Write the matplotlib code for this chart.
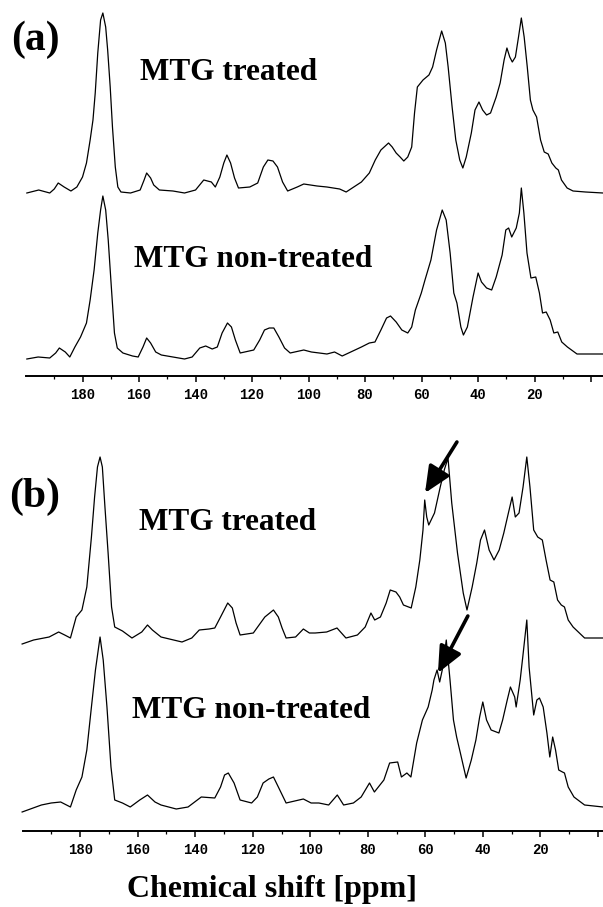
import matplotlib
matplotlib.use('Agg')
import matplotlib.pyplot as plt

# chemical shift (ppm) and intensity (a.u., baseline ~0)
a_top_ppm = [199.7, 195.5, 191.6, 190.0, 188.6, 186.5, 184.1, 182.0, 180.0, 178.6, 177.3, 176.3, 175.5, 174.6,
             173.6, 172.8, 171.8, 171.1, 170.2, 169.4, 168.4, 167.5, 166.4, 163.0, 159.6, 158.2, 157.3, 155.9,
             154.8, 152.8, 148.0, 143.9, 140.0, 137.1, 134.4, 133.0, 131.4, 130.0, 128.9, 127.6, 126.2, 124.8,
             120.8, 118.0, 116.0, 114.4, 112.6, 111.0, 109.2, 107.4, 104.0, 101.7, 97.0, 93.5, 89.0, 86.7,
             81.3, 78.5, 76.4, 74.4, 71.7, 70.4, 69.0, 67.6, 66.3, 64.9, 63.5, 62.5, 61.5, 59.5, 57.4, 56.1,
             54.7, 52.9, 51.6, 50.6, 49.2, 47.9, 46.5, 45.4, 44.2, 42.4, 41.1, 39.7, 38.4, 37.0, 35.6, 33.6,
             32.2, 30.8, 29.8, 28.8, 27.9, 26.8, 25.7, 24.7, 23.7, 22.6, 21.5, 20.6, 19.3, 17.9, 16.6, 15.2,
             13.9, 12.5, 11.6, 10.5, 8.5, 6.4, 2.0, -4.2]
a_top_int = [0, 3, 0, 4, 10, 6, 2, 6, 16, 30, 53, 73, 100, 140,
             173, 180, 166, 143, 106, 66, 26, 6, 1, 0, 3, 13, 20, 15,
             8, 3, 2, 0, 3, 13, 11, 6, 16, 30, 38, 30, 15, 5,
             6, 10, 26, 33, 32, 26, 11, 2, 6, 9, 7, 6, 4, 1,
             11, 20, 33, 43, 50, 46, 40, 36, 32, 36, 46, 80, 106, 113, 118, 126,
             143, 162, 150, 126, 86, 53, 33, 25, 36, 60, 83, 91, 83, 78, 80, 96,
             110, 133, 145, 136, 131, 136, 156, 175, 156, 126, 93, 83, 76, 53, 41, 39,
             30, 25, 23, 13, 5, 2, 1, 0]

a_bot_ppm = [199.7, 195.7, 191.6, 189.5, 188.2, 186.1, 184.5, 182.7, 180.7, 178.6, 177.3, 175.9, 174.6, 173.6,
             172.8, 171.8, 170.9, 169.8, 168.7, 167.7, 165.7, 162.3, 160.3, 158.6, 157.3, 155.9, 154.1, 152.1,
             148.0, 143.9, 141.2, 138.5, 136.4, 134.1, 132.3, 130.6, 128.7, 127.3, 125.9, 124.2, 119.4, 117.3,
             115.6, 113.9, 112.3, 110.5, 108.5, 106.5, 101.7, 99.0, 96.2, 93.5, 90.8, 88.1, 81.3, 78.5, 76.5,
             74.4, 72.4, 71.0, 69.0, 67.0, 64.9, 63.5, 62.2, 60.1, 58.8, 56.7, 54.7, 52.7, 51.3, 49.9, 48.6,
             47.5, 46.1, 45.2, 43.8, 41.8, 40.0, 38.8, 37.0, 35.2, 33.6, 31.5, 30.2, 29.2, 28.1, 26.5, 25.4,
             24.7, 23.8, 22.7, 21.3, 19.6, 18.3, 17.2, 15.9, 14.5, 13.2, 11.8, 10.4, 8.4, 5.0, -4.2]
a_bot_int = [-1, 1, 0, 5, 10, 6, 1, 11, 21, 35, 58, 88, 125, 148,
             162, 148, 118, 71, 25, 10, 5, 2, 1, 11, 20, 15, 6, 3,
             1, -1, 1, 10, 12, 9, 11, 25, 35, 31, 18, 5, 8, 18,
             28, 30, 30, 21, 10, 5, 8, 6, 5, 4, 6, 2, 11, 15, 16,
             28, 40, 42, 36, 28, 25, 31, 48, 65, 78, 98, 128, 148, 138, 105, 65,
             55, 31, 23, 31, 61, 85, 76, 70, 68, 81, 103, 128, 130, 121, 130, 145,
             170, 145, 105, 80, 81, 65, 45, 46, 38, 25, 26, 16, 11, 4, 4]

b_top_ppm = [200.2, 196.2, 190.8, 187.5, 185.4, 183.4, 181.4, 179.4, 177.7, 176.1, 175.0, 174.0, 173.1, 172.3,
             171.4, 170.3, 169.1, 168.0, 165.3, 162.0, 158.6, 156.6, 154.9, 151.9, 144.6, 141.2, 138.6, 135.2,
             133.2, 131.2, 128.7, 127.1, 125.8, 124.4, 119.8, 117.8, 115.8, 112.8, 111.1, 109.8, 108.4, 105.1,
             102.4, 100.3, 98.3, 94.3, 90.7, 87.6, 83.6, 80.9, 78.9, 77.6, 75.6, 73.6, 72.2, 70.2, 68.9, 67.6,
             64.9, 63.3, 61.9, 60.8, 60.2, 59.5, 58.8, 56.8, 54.8, 53.4, 52.1, 50.8, 48.8, 46.8, 45.5, 43.7,
             42.1, 40.8, 39.4, 37.8, 36.1, 34.3, 32.7, 31.1, 29.8, 28.7, 27.4, 26.0, 24.7, 23.6, 22.3, 20.9,
             19.3, 18.0, 16.6, 15.3, 14.0, 12.7, 11.6, 10.3, 8.6, 4.6, -1.8]
b_top_int = [-6, -2, 1, 6, 3, 0, 21, 28, 51, 101, 141, 171, 181, 171,
             131, 85, 31, 11, 7, 0, 6, 13, 8, 1, -4, 0, 8, 9,
             10, 21, 35, 30, 15, 3, 5, 13, 21, 28, 21, 10, 0, 1,
             9, 5, 5, 6, 10, 0, 3, 11, 25, 18, 21, 35, 48, 46, 41, 33,
             30, 51, 78, 108, 138, 121, 113, 125, 151, 168, 180, 135, 85, 45, 28, 51,
             75, 98, 108, 88, 78, 88, 105, 125, 141, 121, 125, 151, 181, 151, 108, 101,
             98, 78, 58, 56, 38, 33, 31, 18, 11, 0, 0]

b_bot_ppm = [200.2, 193.5, 190.1, 186.8, 183.4, 181.4, 179.4, 177.7, 176.1, 174.7, 173.1, 172.0, 170.7, 169.3,
             168.0, 165.3, 162.6, 159.3, 156.6, 154.0, 151.9, 146.6, 142.5, 137.9, 133.2, 131.2, 129.8, 128.5,
             126.5, 124.4, 120.4, 118.4, 116.4, 114.4, 112.8, 111.1, 108.4, 102.4, 99.7, 97.0, 93.6, 90.6, 88.4,
             85.0, 82.3, 79.4, 77.7, 74.4, 72.4, 69.6, 68.3, 66.4, 65.0, 63.0, 61.0, 59.0, 57.6, 57.0, 55.9,
             55.0, 54.1, 52.7, 51.4, 50.2, 49.1, 47.8, 45.8, 44.0, 42.4, 41.1, 40.0, 38.7, 37.1, 34.4, 33.1,
             31.5, 30.4, 28.9, 28.4, 27.0, 26.1, 24.7, 23.9, 22.3, 21.2, 20.3, 19.0, 17.7, 16.7, 15.7, 14.7,
             13.6, 12.3, 11.6, 10.3, 8.3, 4.6, -1.8]
b_bot_int = [-5, 2, 4, 5, 0, 17, 30, 57, 100, 137, 170, 147, 100, 40,
             7, 4, 0, 7, 12, 5, 2, -2, 0, 10, 9, 20, 32, 34,
             24, 7, 4, 10, 24, 28, 30, 20, 4, 8, 4, 4, 2, 12, 2,
             4, 10, 24, 15, 27, 44, 45, 30, 34, 30, 64, 87, 100, 117, 127, 137,
             125, 137, 167, 127, 87, 70, 54, 29, 47, 67, 90, 105, 87, 77, 74, 87,
             107, 120, 110, 100, 127, 150, 187, 140, 92, 107, 109, 100, 74, 50, 70, 57,
             37, 35, 34, 20, 10, 2, 0]

major_ticks = [180, 160, 140, 120, 100, 80, 60, 40, 20, 0]
tick_labels = ['180', '160', '140', '120', '100', '80', '60', '40', '20', '']
minor_ticks = [190, 170, 150, 130, 110, 90, 70, 50, 30, 10]

# arrows in (b): (ppm, intensity) of tail and head, relative to each trace
arrow_top = [(49.0, 196), (60.1, 145)]
arrow_bot = [(45.2, 191), (55.6, 134)]

W, H = 603, 907
fig = plt.figure(figsize=(W / 100, H / 100), dpi=100)
serif = 'Liberation Serif'


def make_axes(left, axis_y, top_y, xmin, xmax):
    ax = fig.add_axes([left / W, 1 - axis_y / H, (W - left) / W, (axis_y - top_y) / H])
    ax.set_xlim(xmin, xmax)
    ax.set_ylim(0, axis_y - top_y)
    for s in ['top', 'left', 'right']:
        ax.spines[s].set_visible(False)
    ax.spines['bottom'].set_linewidth(1.4)
    ax.set_yticks([])
    ax.set_xticks(major_ticks)
    ax.set_xticklabels(tick_labels, family='Liberation Mono', fontsize=10, fontweight='bold')
    ax.set_xticks(minor_ticks, minor=True)
    ax.tick_params(axis='x', which='major', length=4.5, width=1.1, pad=4)
    ax.tick_params(axis='x', which='minor', length=2.5, width=0.9)
    ax.patch.set_visible(False)
    return ax


# panel (a)
ax_a = make_axes(26, 376, 0, 200, -4.2)
ax_a.plot(a_top_ppm, [v + 183 for v in a_top_int], color='black', lw=0.9, clip_on=False)
ax_a.plot(a_bot_ppm, [v + 18 for v in a_bot_int], color='black', lw=0.9, clip_on=False)

# panel (b)
ax_b = make_axes(22.7, 831, 420, 200, -1.8)
ax_b.plot(b_top_ppm, [v + 193 for v in b_top_int], color='black', lw=0.9, clip_on=False)
ax_b.plot(b_bot_ppm, [v + 24 for v in b_bot_int], color='black', lw=0.9, clip_on=False)

for (tail, head), off in [(arrow_top, 193), (arrow_bot, 24)]:
    ax_b.annotate('', xy=(head[0], head[1] + off), xytext=(tail[0], tail[1] + off),
                  arrowprops=dict(arrowstyle='-|>,head_length=1.0,head_width=0.45',
                                  mutation_scale=16, lw=2.6, color='black',
                                  shrinkA=0, shrinkB=0), annotation_clip=False)

# texts
fig.text(11 / W, 1 - 40 / H, '(a)', family=serif, fontweight='bold', fontsize=30, va='center')
fig.text(9 / W, 1 - 497 / H, '(b)', family=serif, fontweight='bold', fontsize=30, va='center')
fig.text(140 / W, 1 - 80 / H, 'MTG treated', family=serif, fontweight='bold', fontsize=22.5, va='baseline')
fig.text(134 / W, 1 - 267 / H, 'MTG non-treated', family=serif, fontweight='bold', fontsize=22.5, va='baseline')
fig.text(139 / W, 1 - 530 / H, 'MTG treated', family=serif, fontweight='bold', fontsize=22.5, va='baseline')
fig.text(132 / W, 1 - 718 / H, 'MTG non-treated', family=serif, fontweight='bold', fontsize=22.5, va='baseline')
fig.text(272 / W, 1 - 897 / H, 'Chemical shift [ppm]', family=serif, fontweight='bold', fontsize=23,
         ha='center', va='baseline')

fig.savefig('out.png', dpi=100)
